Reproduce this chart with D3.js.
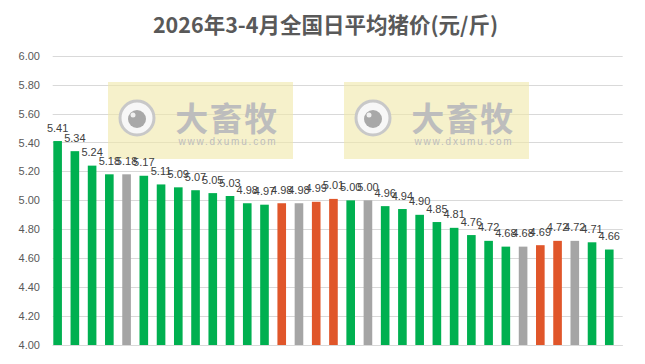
<!DOCTYPE html>
<html><head><meta charset="utf-8">
<script src="https://cdn.jsdelivr.net/npm/d3@7/dist/d3.min.js"></script>
<style>html,body{margin:0;padding:0;background:#fff;}svg{display:block;}</style>
</head><body>
<svg id="c" width="645" height="364"></svg>
<script>
const title = "2026年3-4月全国日平均猪价(元/斤)";
const days = d3.range(1, 34).map(d => "D" + d);
const prices = [5.41,5.34,5.24,5.18,5.18,5.17,5.11,5.09,5.07,5.05,5.03,4.98,4.97,4.98,4.98,4.99,5.01,5.00,5.00,4.96,4.94,4.90,4.85,4.81,4.76,4.72,4.68,4.68,4.69,4.72,4.72,4.71,4.66];
const yTicks = [4.00,4.20,4.40,4.60,4.80,5.00,5.20,5.40,5.60,5.80,6.00];
const trendColors = {down:"#00B050", flat:"#A5A5A5", up:"#E0562A"};
const trend = prices.map((v,i) => i === 0 ? "down" : (v > prices[i-1] ? "up" : (v < prices[i-1] ? "down" : "flat")));

const svg = d3.select("#c");
const font = "'Liberation Sans', Arial, sans-serif";
const x = d3.scaleBand().domain(days).range([49, 617.9]).paddingInner(0.5).paddingOuter(0.25);
const y = d3.scaleLinear().domain([4, 6]).range([345, 55.7]);

svg.append("text").attr("x", 325.5).attr("y", 33).attr("text-anchor", "middle")
  .attr("font-family", "'Noto Sans CJK SC', sans-serif").attr("font-weight", "bold")
  .attr("font-size", 21.5).attr("fill", "#595959").text(title);

// gridlines
svg.append("g").selectAll("line").data(yTicks).join("line")
  .attr("x1", 52.7).attr("x2", 622.7)
  .attr("y1", d => Math.round(y(d)) + 0.5).attr("y2", d => Math.round(y(d)) + 0.5)
  .attr("stroke", "#D9D9D9").attr("stroke-width", 1);

// y axis labels
const yAxis = d3.axisLeft(y).tickValues(yTicks).tickFormat(d3.format(".2f")).tickSize(0).tickPadding(0);
const ga = svg.append("g").attr("transform", "translate(40,0)").call(yAxis);
ga.select(".domain").remove();
ga.selectAll("text").attr("font-family", font).attr("font-size", 11).attr("fill", "#595959");

// watermarks
function watermark(x0, y0) {
  const g = svg.append("g").attr("transform", `translate(${x0},${y0})`);
  g.append("rect").attr("width", 185).attr("height", 77).attr("fill", "#F0E8A8").attr("opacity", 0.6);
  g.append("circle").attr("cx", 29).attr("cy", 36).attr("r", 17).attr("fill", "#F7F7F7").attr("stroke", "#C8C8C8").attr("stroke-width", 3);
  g.append("circle").attr("cx", 29).attr("cy", 37).attr("r", 9).attr("fill", "#A8A8A8");
  g.append("circle").attr("cx", 25).attr("cy", 33).attr("r", 2.5).attr("fill", "#F0F0F0");
  g.append("text").attr("x", 119).attr("y", 49).attr("text-anchor", "middle")
    .attr("font-family", "'Noto Sans CJK SC', sans-serif").attr("font-weight", "bold")
    .attr("font-size", 33).attr("fill", "#BDBDBD").attr("letter-spacing", 1.5).text("大畜牧");
  g.append("text").attr("x", 120).attr("y", 63).attr("text-anchor", "middle")
    .attr("font-family", font).attr("font-size", 10).attr("fill", "#BDBDBD").attr("letter-spacing", 1.8).text("www.dxumu.com");
}
watermark(108, 82);
watermark(344, 82);

// bars
svg.append("g").selectAll("rect").data(prices).join("rect")
  .attr("x", (d,i) => x(days[i])).attr("width", x.bandwidth())
  .attr("y", d => y(d)).attr("height", d => y(4) - y(d))
  .attr("fill", (d,i) => trendColors[trend[i]]);

// labels
svg.append("g").selectAll("text").data(prices).join("text")
  .attr("x", (d,i) => x(days[i]) + x.bandwidth()/2).attr("y", d => y(d) - 9.5)
  .attr("text-anchor", "middle").attr("font-family", font).attr("font-size", 11)
  .attr("fill", "#404040").text(d => d.toFixed(2));

// baseline
svg.append("line").attr("x1", 52.7).attr("x2", 622.7).attr("y1", 345.5).attr("y2", 345.5)
  .attr("stroke", "#D9D9D9");
</script>
</body></html>
